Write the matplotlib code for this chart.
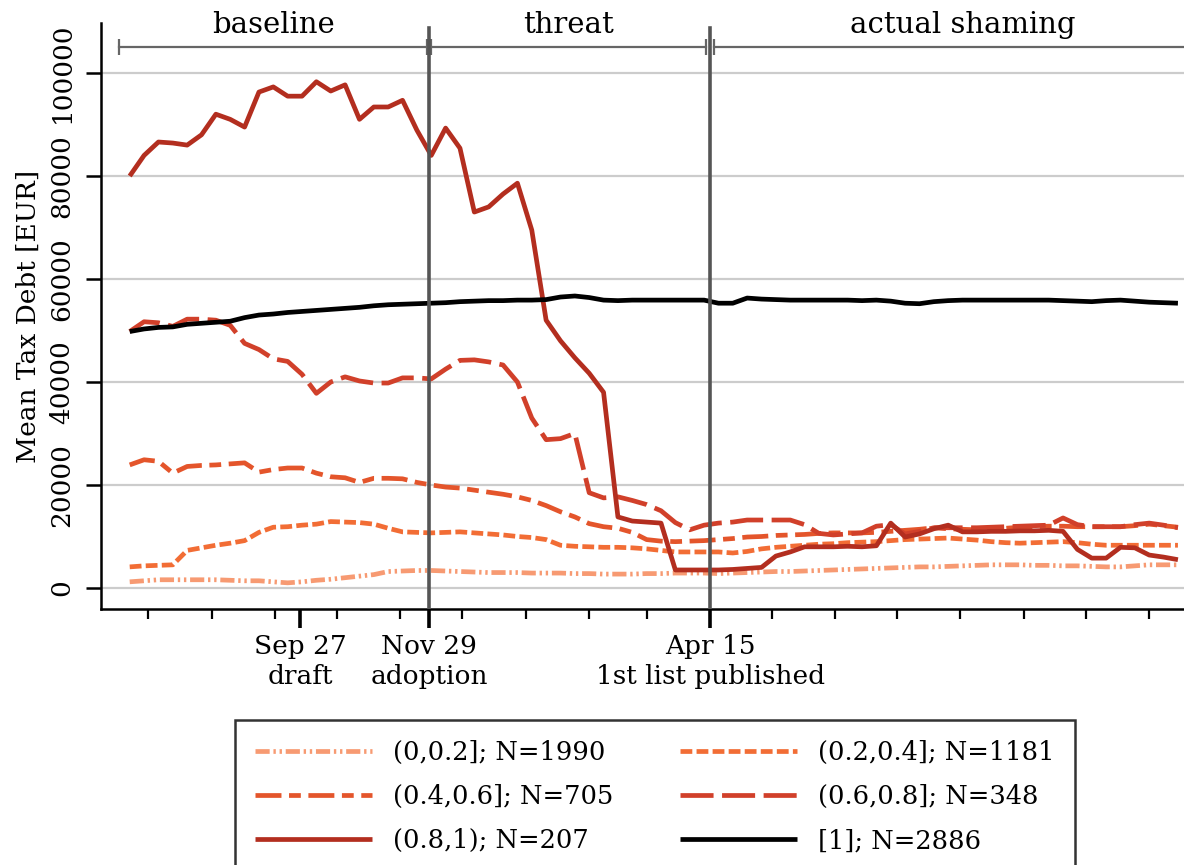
import numpy as np
import pandas as pd
import matplotlib
matplotlib.use("Agg")
from matplotlib import pyplot as plt
import matplotlib.dates as mdates
import matplotlib.transforms as mtransforms

plt.rcParams["font.family"] = ["DejaVu Serif"]
plt.rcParams["font.size"] = 19

# weekly observations
weeks = pd.date_range("2014-07-06", periods=74, freq="7D")

# mean tax debt in thousands of EUR, by share of debt group
g_00_02 = [1.2, 1.4, 1.6, 1.6, 1.6, 1.6, 1.6, 1.5, 1.4, 1.4, 1.2, 1.0, 1.2, 1.5, 1.7, 2.0, 2.3, 2.6, 3.2, 3.3,
           3.4, 3.4, 3.3, 3.2, 3.1, 3.0, 3.0, 3.0, 2.9, 2.9, 2.9, 2.8, 2.8, 2.7, 2.7, 2.7, 2.8, 2.8, 2.9, 2.9,
           2.9, 2.8, 2.9, 3.0, 3.1, 3.2, 3.2, 3.3, 3.4, 3.5, 3.6, 3.7, 3.8, 3.9, 4.0, 4.1, 4.1, 4.2, 4.3, 4.4,
           4.5, 4.5, 4.5, 4.4, 4.4, 4.3, 4.3, 4.2, 4.1, 4.1, 4.3, 4.5, 4.5, 4.5]
g_02_04 = [4.1, 4.3, 4.4, 4.5, 7.3, 7.8, 8.3, 8.7, 9.2, 10.8, 11.8, 11.9, 12.2, 12.4, 12.9, 12.8, 12.7, 12.4, 11.6, 10.9,
           10.8, 10.7, 10.8, 10.9, 10.7, 10.5, 10.3, 10.0, 9.8, 9.4, 8.3, 8.1, 8.0, 7.9, 7.9, 7.8, 7.6, 7.3, 7.0, 7.0,
           7.0, 7.0, 6.8, 7.1, 7.6, 7.9, 8.1, 8.3, 8.5, 8.6, 8.8, 8.9, 9.0, 9.2, 9.4, 9.5, 9.6, 9.7, 9.5, 9.3,
           9.0, 8.8, 8.7, 8.8, 8.9, 9.0, 8.8, 8.5, 8.3, 8.3, 8.3, 8.3, 8.3, 8.3]
g_04_06 = [23.9, 24.9, 24.6, 22.3, 23.6, 23.8, 23.9, 24.1, 24.3, 22.5, 23.0, 23.3, 23.3, 22.3, 21.6, 21.4, 20.5, 21.3, 21.3, 21.2,
           20.5, 20.0, 19.6, 19.4, 19.0, 18.6, 18.2, 17.7, 17.0, 16.0, 14.8, 13.8, 12.5, 11.9, 11.6, 10.8, 9.4, 9.1, 9.0, 9.1,
           9.2, 9.4, 9.6, 9.9, 10.0, 10.2, 10.3, 10.4, 10.6, 10.7, 10.7, 10.7, 10.8, 11.0, 11.2, 11.4, 11.7, 11.5, 11.4, 11.3,
           11.4, 11.6, 11.8, 11.9, 12.0, 12.0, 11.9, 11.9, 11.9, 11.9, 12.1, 12.4, 12.1, 11.8]
g_06_08 = [49.8, 51.7, 51.5, 50.8, 52.2, 52.2, 52.0, 51.0, 47.5, 46.3, 44.5, 44.0, 41.5, 37.8, 40.0, 41.0, 40.2, 39.8, 39.8, 40.8,
           40.8, 40.6, 42.5, 44.2, 44.3, 43.9, 43.3, 40.0, 33.0, 28.8, 29.0, 30.0, 18.5, 17.5, 17.7, 17.0, 16.2, 15.0, 12.7, 11.3,
           12.2, 12.6, 12.8, 13.2, 13.2, 13.2, 13.2, 12.3, 10.6, 10.3, 10.5, 10.7, 12.0, 12.3, 10.5, 11.0, 11.7, 11.7, 11.7, 11.7,
           11.8, 11.9, 12.0, 12.1, 12.2, 13.6, 12.3, 11.9, 11.9, 11.9, 12.3, 12.6, 12.2, 11.7]
g_08_1 = [80.0, 84.0, 86.6, 86.4, 86.0, 88.0, 92.0, 91.0, 89.5, 96.3, 97.3, 95.5, 95.5, 98.3, 96.5, 97.7, 91.0, 93.4, 93.4, 94.7,
          88.9, 84.0, 89.3, 85.4, 73.0, 74.0, 76.5, 78.6, 69.5, 52.0, 48.0, 44.7, 41.7, 38.0, 13.8, 13.0, 12.8, 12.6, 3.5, 3.5,
          3.5, 3.5, 3.6, 3.8, 4.0, 6.2, 7.0, 8.0, 8.0, 8.0, 8.1, 8.0, 8.2, 12.6, 9.9, 10.5, 11.5, 12.2, 10.9, 10.9,
          11.0, 11.0, 11.1, 11.1, 11.2, 11.0, 7.5, 5.8, 5.8, 7.9, 7.8, 6.4, 6.0, 5.5]
g_1 = [49.8, 50.3, 50.6, 50.7, 51.2, 51.4, 51.6, 51.8, 52.5, 53.0, 53.2, 53.5, 53.7, 53.9, 54.1, 54.3, 54.5, 54.8, 55.0, 55.1,
       55.2, 55.3, 55.4, 55.6, 55.7, 55.8, 55.8, 55.9, 55.9, 56.0, 56.5, 56.7, 56.4, 55.9, 55.8, 55.9, 55.9, 55.9, 55.9, 55.9,
       55.9, 55.3, 55.3, 56.3, 56.1, 56.0, 55.9, 55.9, 55.9, 55.9, 55.9, 55.8, 55.9, 55.7, 55.3, 55.2, 55.6, 55.8, 55.9, 55.9,
       55.9, 55.9, 55.9, 55.9, 55.9, 55.8, 55.7, 55.6, 55.8, 55.9, 55.7, 55.5, 55.4, 55.3]

labels = ["(0,0.2]; N=1990", "(0.2,0.4]; N=1181", "(0.4,0.6]; N=705",
          "(0.6,0.8]; N=348", "(0.8,1); N=207", "[1]; N=2886"]
colors = ["#f79a72", "#f26d35", "#e4552b", "#d1402a", "#b32e1f", "black"]
dashes = [(0, (3, 0.8, 0.5, 0.8, 0.5, 0.8)), (0, (2.5, 0.9)), (0, (5.5, 1.6, 2.5, 1.6)),
          (0, (7.0, 1.8)), "-", "-"]

events = pd.to_datetime(["2014-09-27", "2014-11-29", "2015-04-15"])
event_labels = ["Sep 27\ndraft", "Nov 29\nadoption", "Apr 15\n1st list published"]

periods = ["baseline", "threat", "actual shaming"]
period_start = pd.to_datetime(["2014-07-01", "2014-11-30", "2015-04-17"])
period_end = pd.to_datetime(["2014-11-28", "2015-04-13", "2015-12-15"])

fig = plt.figure(figsize=(11.84, 8.65), dpi=100)
ax = fig.add_axes([101 / 1184, 256 / 865, 1120 / 1184, 586 / 865])

series = [g_00_02, g_02_04, g_04_06, g_06_08, g_08_1, g_1]
handles = []
for vals, lab, col, ls in zip(series, labels, colors, dashes):
    h, = ax.plot(weeks, np.array(vals) * 1000, color=col, linestyle=ls, lw=3.4,
                 label=lab, solid_capstyle="butt", dash_capstyle="butt")
    handles.append(h)

ax.set_xlim(pd.Timestamp("2014-06-22"), pd.Timestamp("2015-12-20"))
ax.set_ylim(-4078, 109709)

ax.set_yticks([0, 20000, 40000, 60000, 80000, 100000])
ax.set_yticklabels(["0", "20000", "40000", "60000", "80000", "100000"], rotation=90, va="center")
ax.grid(axis="y", color="#cccccc", lw=1.6)
ax.set_axisbelow(True)
ax.set_ylabel("Mean Tax Debt [EUR]", labelpad=6)
ax.tick_params(axis="y", length=11, width=1.8, pad=8)

ax.set_xticks(events)
ax.set_xticklabels(event_labels, linespacing=1.25)
ax.xaxis.set_minor_locator(mdates.MonthLocator(bymonthday=15))
ax.tick_params(axis="x", which="major", length=14, width=2.6, pad=4)
ax.tick_params(axis="x", which="minor", length=7, width=1.6)

for s in ["top", "right"]:
    ax.spines[s].set_visible(False)
ax.spines["left"].set_linewidth(1.8)
ax.spines["bottom"].set_linewidth(1.8)

for d in events[1:]:
    ax.axvline(d, ymin=0, ymax=0.9915, color="#555555", lw=2.6, zorder=5)

trans = mtransforms.blended_transform_factory(ax.transData, ax.transAxes)
for name, d0, d1 in zip(periods, period_start, period_end):
    ax.plot([d0, d1], [0.959, 0.959], transform=trans, color="#666666", lw=1.6,
            marker="|", markersize=12, markeredgewidth=1.6, clip_on=False)
    mid = d0 + (d1 - d0) / 2
    ax.text(mid, 0.996, name, transform=trans, ha="center", va="center", fontsize=21)

# row-wise order as in the original legend
order = [0, 2, 4, 1, 3, 5]
leg = fig.legend(handles=[handles[i] for i in order], ncol=2, loc="upper left",
                 bbox_to_anchor=(235 / 1184, 1 - 720 / 865), borderaxespad=0,
                 frameon=True, fancybox=False, edgecolor="black", fontsize=18.5,
                 handlelength=4.55, handletextpad=0.82, columnspacing=2.6,
                 labelspacing=0.74, borderpad=0.78)
leg.get_frame().set_linewidth(1.8)

fig.savefig("out.png", dpi=100)
